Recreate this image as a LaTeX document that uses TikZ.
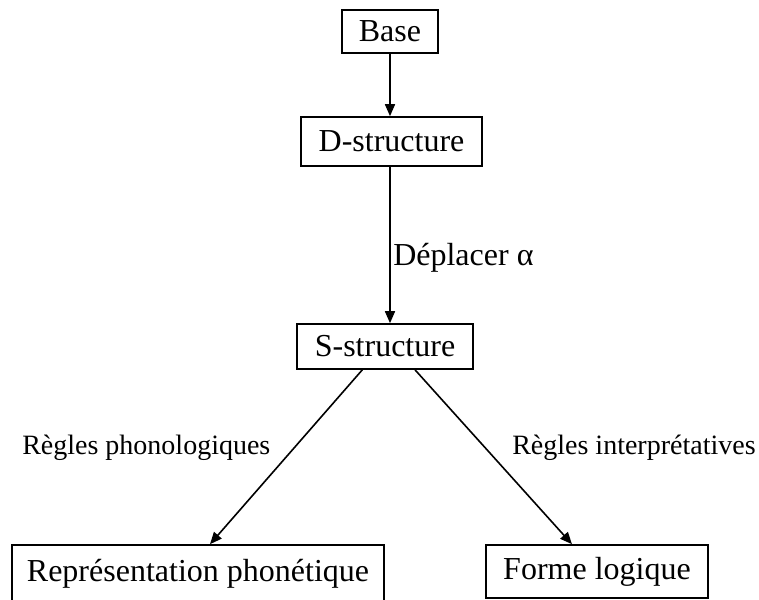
\documentclass[tikz,border=0pt]{standalone}
\usepackage{fontspec}
\setmainfont{Liberation Serif}
\usepackage{tikz}
\usetikzlibrary{positioning}
\usetikzlibrary{arrows.meta}

\begin{document}
\begin{tikzpicture}[x=0.75pt,y=-0.75pt,
    level/.style={align=center,draw,line width=1.2pt,inner sep=0pt,font=\fontsize{24}{28}\selectfont},
    rule/.style={font=\fontsize{21}{25}\selectfont,inner sep=0pt},
    arr/.style={-{Triangle[length=9pt,width=7.5pt]},line width=1.2pt}]
  \useasboundingbox (0,0) rectangle (759,599);

  \node at (390,31.5) [level,minimum width=72pt,minimum height=32.25pt] (B) {Base};

  \node at (391.5,141.5) [level,minimum width=135.75pt,minimum height=36.75pt] (D) {D-structure};

  \node at (385,346.5) [level,minimum width=132pt,minimum height=33.75pt] (S) {S-structure};

  \node at (198,573.5) [level,minimum width=279pt,minimum height=42.75pt] (PF) {Représentation phonétique};

  \node at (597,571.5) [level,minimum width=166.5pt,minimum height=39.75pt] (LF) {Forme logique};

  \path[arr] (B.south) edge (B.south |- D.north);
  \path[arr] (D.south -| B) edge (S.north -| B);
  \path[arr] ([xshift=-17pt]S.south) edge ([xshift=9pt]PF.north);
  \path[arr] ([xshift=22.5pt]S.south) edge ([xshift=-18.75pt]LF.north);

  \node at (393,265) [anchor=base west,rule,font=\fontsize{24}{28}\selectfont] (move) {Déplacer α};
  \node at (22,454) [anchor=base west,rule] (phonrule) {Règles phonologiques};
  \node at (512,454) [anchor=base west,rule] (interp) {Règles interprétatives};
\end{tikzpicture}
\end{document}
